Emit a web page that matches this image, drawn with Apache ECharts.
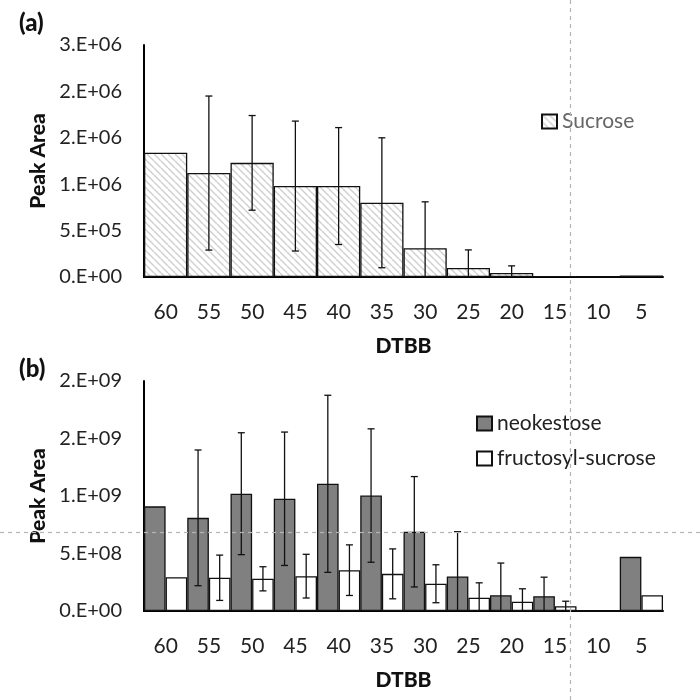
<!DOCTYPE html>
<html>
<head>
<meta charset="utf-8">
<script src="https://cdn.jsdelivr.net/npm/echarts@6/dist/echarts.min.js"></script>
<style>
  html, body { margin: 0; padding: 0; background: #fff; }
  #main { width: 700px; height: 700px; }
</style>
</head>
<body>
<div id="main"></div>
<script>
var categories = ['60', '55', '50', '45', '40', '35', '30', '25', '20', '15', '10', '5'];

// (a) sucrose
var sucrose    = [1.34e6, 1.12e6, 1.23e6, 0.98e6, 0.98e6, 0.80e6, 0.31e6, 0.097e6, 0.043e6, 0.010e6, 0.003e6, 0.015e6];
var sucroseErr = [0, 0.83e6, 0.51e6, 0.70e6, 0.63e6, 0.70e6, 0.50e6, 0.195e6, 0.077e6, 0, 0, 0];
var ticksA = ['0.E+00', '5.E+05', '1.E+06', '2.E+06', '2.E+06', '3.E+06'];

// (b) neokestose and fructosyl-sucrose
var neokestose    = [0.91e9, 0.81e9, 1.02e9, 0.976e9, 1.106e9, 1.004e9, 0.689e9, 0.30e9, 0.137e9, 0.129e9, 0, 0.471e9];
var neokestoseErr = [0, 0.59e9, 0.53e9, 0.58e9, 0.77e9, 0.58e9, 0.48e9, 0.39e9, 0.28e9, 0.165e9, 0, 0];
var fructosyl     = [0.294e9, 0.289e9, 0.28e9, 0.303e9, 0.355e9, 0.323e9, 0.237e9, 0.115e9, 0.08e9, 0.042e9, 0, 0.137e9];
var fructosylErr  = [0, 0.197e9, 0.105e9, 0.19e9, 0.22e9, 0.217e9, 0.165e9, 0.13e9, 0.113e9, 0.043e9, 0, 0];
var ticksB = ['0.E+00', '5.E+08', '1.E+09', '2.E+09', '2.E+09'];

var FONT = 'Lato';

// diagonal hatch for sucrose bars
var hatch = document.createElement('canvas');
hatch.width = 7; hatch.height = 7;
var hc = hatch.getContext('2d');
hc.fillStyle = '#fff';
hc.fillRect(0, 0, 7, 7);
hc.strokeStyle = '#cfcfcf';
hc.lineWidth = 1.4;
for (var k = -1; k <= 1; k++) {
  hc.beginPath();
  hc.moveTo(k * 7, 0);
  hc.lineTo(k * 7 + 7, 7);
  hc.stroke();
}

function errData(vals, errs) {
  return vals.map(function (v, i) { return [i, v, errs[i]]; });
}

function errRender(shift) {
  return function (params, api) {
    var i = api.value(0), v = api.value(1), e = api.value(2);
    if (!e) return null;
    var band = api.size([1, 0])[0];
    var x = api.coord([i, v])[0] + shift * band;
    var hi = api.coord([i, v + e])[1];
    var low = v - e;
    var lo = api.coord([i, Math.max(0, low)])[1];
    var st = { stroke: '#111', lineWidth: 1.3 };
    var kids = [
      { type: 'line', shape: { x1: x, y1: hi, x2: x, y2: lo }, style: st },
      { type: 'line', shape: { x1: x - 3.5, y1: hi, x2: x + 3.5, y2: hi }, style: st }
    ];
    if (low > 0) {
      kids.push({ type: 'line', shape: { x1: x - 3.5, y1: lo, x2: x + 3.5, y2: lo }, style: st });
    }
    return { type: 'group', children: kids };
  };
}

function xAxisCfg(gi) {
  return {
    type: 'category', gridIndex: gi, data: categories,
    name: 'DTBB', nameLocation: 'middle', nameGap: 59,
    nameTextStyle: { fontFamily: FONT, fontWeight: 900, fontSize: 21, color: '#111' },
    axisLine: { lineStyle: { color: '#000', width: 2 } },
    axisTick: { show: false },
    axisLabel: { margin: 25, fontFamily: FONT, fontSize: 21, color: '#222' }
  };
}

function yAxisCfg(gi, max, interval, ticks) {
  return {
    type: 'value', gridIndex: gi, min: 0, max: max, interval: interval,
    name: 'Peak Area', nameLocation: 'middle', nameGap: 95,
    nameTextStyle: { fontFamily: FONT, fontWeight: 900, fontSize: 21, color: '#111' },
    axisLine: { show: true, lineStyle: { color: '#000', width: 2 } },
    axisTick: { show: false },
    splitLine: { show: false },
    axisLabel: {
      margin: 22, fontFamily: FONT, fontSize: 20, color: '#222',
      formatter: function (v) { return ticks[Math.round(v / interval)]; }
    }
  };
}

var myChart = echarts.init(document.getElementById('main'));

var option = {
  animation: false,
  backgroundColor: '#fff',
  title: [
    { text: '(a)', left: 14, top: 6, textStyle: { fontFamily: FONT, fontWeight: 900, fontSize: 24, color: '#111' } },
    { text: '(b)', left: 14, top: 352, textStyle: { fontFamily: FONT, fontWeight: 900, fontSize: 24, color: '#111' } }
  ],
  legend: [
    {
      data: ['Sucrose'], left: 536, top: 106, orient: 'vertical',
      itemWidth: 15, itemHeight: 14, icon: 'rect', itemGap: 16,
      textStyle: { fontFamily: FONT, fontSize: 21, color: '#666' }
    },
    {
      data: ['neokestose', 'fructosyl-sucrose'], left: 471, top: 408, orient: 'vertical',
      itemWidth: 15, itemHeight: 14, icon: 'rect', itemGap: 14,
      textStyle: { fontFamily: FONT, fontSize: 21, color: '#222' }
    }
  ],
  grid: [
    { left: 144, right: 37, top: 45, height: 232 },
    { left: 144, right: 37, top: 381, height: 230 }
  ],
  xAxis: [xAxisCfg(0), xAxisCfg(1)],
  yAxis: [
    yAxisCfg(0, 2.5e6, 5e5, ticksA),
    yAxisCfg(1, 2e9, 5e8, ticksB)
  ],
  series: [
    {
      name: 'Sucrose', type: 'bar', xAxisIndex: 0, yAxisIndex: 0,
      data: sucrose, barCategoryGap: '0%',
      itemStyle: { color: { image: hatch, repeat: 'repeat' }, borderColor: '#111', borderWidth: 1.3 }
    },
    {
      type: 'custom', xAxisIndex: 0, yAxisIndex: 0, z: 5,
      renderItem: errRender(0), data: errData(sucrose, sucroseErr)
    },
    {
      name: 'neokestose', type: 'bar', xAxisIndex: 1, yAxisIndex: 1,
      data: neokestose, barGap: '0%', barCategoryGap: '0%',
      itemStyle: { color: '#808080', borderColor: '#111', borderWidth: 1.3 }
    },
    {
      name: 'fructosyl-sucrose', type: 'bar', xAxisIndex: 1, yAxisIndex: 1,
      data: fructosyl, barGap: '0%', barCategoryGap: '0%',
      itemStyle: { color: '#fff', borderColor: '#111', borderWidth: 1.3 }
    },
    {
      type: 'custom', xAxisIndex: 1, yAxisIndex: 1, z: 5,
      renderItem: errRender(-0.25), data: errData(neokestose, neokestoseErr)
    },
    {
      type: 'custom', xAxisIndex: 1, yAxisIndex: 1, z: 5,
      renderItem: errRender(0.25), data: errData(fructosyl, fructosylErr)
    }
  ],
  graphic: [
    { type: 'line', z: 100, shape: { x1: 570.5, y1: 0, x2: 570.5, y2: 700 },
      style: { stroke: '#b5b5b5', lineWidth: 1.2, lineDash: [4, 4] } },
    { type: 'line', z: 100, shape: { x1: 0, y1: 532.5, x2: 700, y2: 532.5 },
      style: { stroke: '#b5b5b5', lineWidth: 1.2, lineDash: [4, 4] } }
  ]
};

if (option && typeof option === 'object') {
  myChart.setOption(option);
}
</script>
</body>
</html>
